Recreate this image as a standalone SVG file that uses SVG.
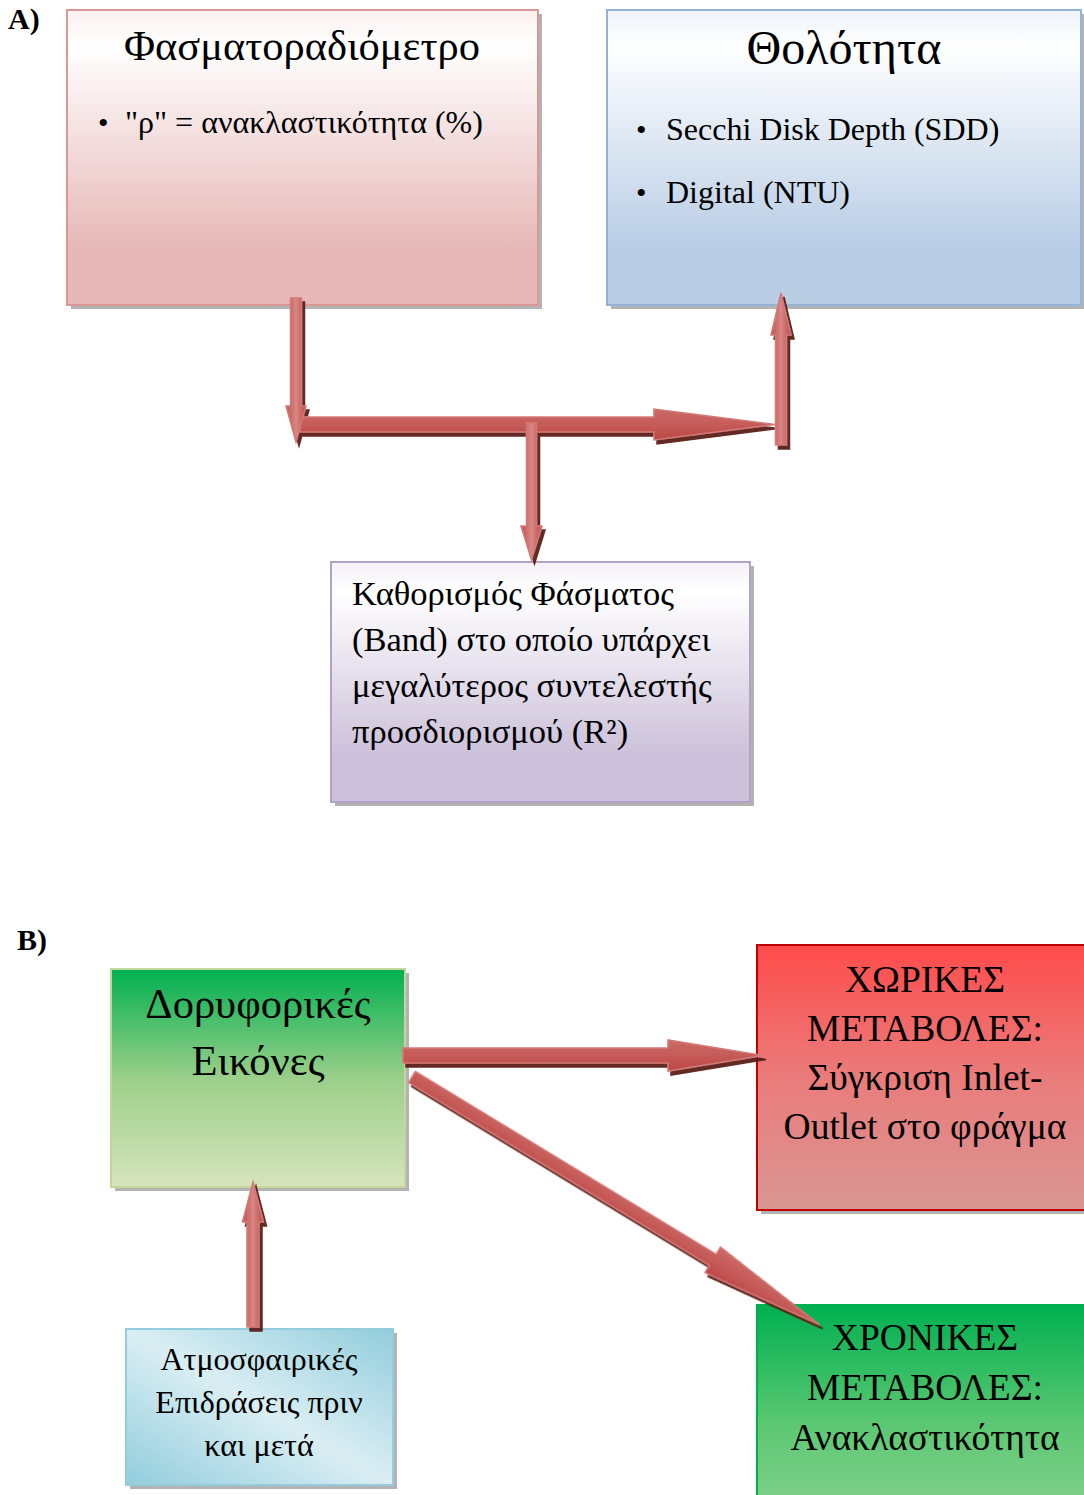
<svg xmlns="http://www.w3.org/2000/svg" width="1084" height="1495" viewBox="0 0 1084 1495">
<defs>
<style>
text{font-family:"Liberation Serif","Times New Roman",serif;fill:#000}
.lbl{font-weight:bold;font-size:30px}
.arrow{stroke:#d27a77;stroke-width:1.5;stroke-linejoin:miter}
.av{fill:url(#gv)}
.ah{fill:url(#gh)}
.shadow{fill:#9a9a9a;opacity:0.75}
</style>
<linearGradient id="gPink" x1="0" y1="0" x2="0" y2="1"><stop offset="0" stop-color="#fbf0f0"/><stop offset="0.12" stop-color="#ffffff"/><stop offset="0.8" stop-color="#e6b9b8"/><stop offset="1" stop-color="#e6b9b8"/></linearGradient>
<linearGradient id="gBlue" x1="0" y1="0" x2="0" y2="1"><stop offset="0" stop-color="#eef3f9"/><stop offset="0.12" stop-color="#ffffff"/><stop offset="0.8" stop-color="#b9cde5"/><stop offset="1" stop-color="#b9cde5"/></linearGradient>
<linearGradient id="gLav" x1="0" y1="0" x2="0" y2="1"><stop offset="0" stop-color="#f4f1f7"/><stop offset="0.12" stop-color="#ffffff"/><stop offset="0.8" stop-color="#ccc1da"/><stop offset="1" stop-color="#ccc1da"/></linearGradient>
<linearGradient id="gGreen1" x1="0" y1="0" x2="0" y2="1"><stop offset="0" stop-color="#00b050"/><stop offset="0.5" stop-color="#9bcf8a"/><stop offset="1" stop-color="#d7e4bd"/></linearGradient>
<linearGradient id="gRed" x1="0" y1="0" x2="0" y2="1"><stop offset="0" stop-color="#ff4b4b"/><stop offset="0.5" stop-color="#ea7c7b"/><stop offset="1" stop-color="#d99694"/></linearGradient>
<linearGradient id="gGreen2" x1="0" y1="0" x2="0" y2="1"><stop offset="0" stop-color="#00b050"/><stop offset="0.6" stop-color="#5cc873"/><stop offset="1" stop-color="#80d08a"/></linearGradient>
<linearGradient id="gCyan" x1="0" y1="1" x2="1" y2="0"><stop offset="0" stop-color="#92cddc"/><stop offset="0.5" stop-color="#daeef3"/><stop offset="1" stop-color="#92cddc"/></linearGradient>
<linearGradient id="gv" x1="0" y1="0" x2="1" y2="0"><stop offset="0" stop-color="#c0504d"/><stop offset="0.5" stop-color="#d88785"/><stop offset="1" stop-color="#bd4a47"/></linearGradient>
<linearGradient id="gh" x1="0" y1="0" x2="0" y2="1"><stop offset="0" stop-color="#cb6966"/><stop offset="0.5" stop-color="#c65b58"/><stop offset="1" stop-color="#bb4744"/></linearGradient>
<filter id="ds" x="-20%" y="-20%" width="140%" height="140%"><feDropShadow dx="3" dy="4" stdDeviation="0.6" flood-color="#5a1a18" flood-opacity="0.95"/></filter>
</defs>
<rect width="1084" height="1495" fill="#fff"/>
<text class="lbl" x="8" y="29">A)</text>
<text class="lbl" x="17" y="950">B)</text>

<g id="node-spectro">
<rect class="shadow" x="71" y="14" width="471" height="295"/>
<rect x="67" y="10" width="471" height="295" fill="url(#gPink)" stroke="#d99795" stroke-width="2"/>
<text x="302" y="60" font-size="42.5" text-anchor="middle">Φασματοραδιόμετρο</text>
<text x="98" y="133" font-size="30">•</text>
<text x="125" y="133" font-size="32">"ρ" = ανακλαστικότητα (%)</text>
</g>

<g id="node-turbidity">
<rect class="shadow" x="611" y="14" width="474" height="295"/>
<rect x="607" y="10" width="474" height="295" fill="url(#gBlue)" stroke="#95b3d7" stroke-width="2"/>
<text x="844" y="64" font-size="48" text-anchor="middle">Θολότητα</text>
<text x="636" y="140" font-size="30">•</text>
<text x="666" y="140" font-size="32">Secchi Disk Depth (SDD)</text>
<text x="636" y="203" font-size="30">•</text>
<text x="666" y="203" font-size="32">Digital (NTU)</text>
</g>

<g id="node-band">
<rect class="shadow" x="335" y="566" width="419" height="240"/>
<rect x="331" y="562" width="419" height="240" fill="url(#gLav)" stroke="#b3a2c7" stroke-width="2"/>
<text x="352" y="605" font-size="34.5">Καθορισμός Φάσματος</text>
<text x="352" y="651" font-size="34.5">(Band) στο οποίο υπάρχει</text>
<text x="352" y="697" font-size="34.5">μεγαλύτερος συντελεστής</text>
<text x="352" y="743" font-size="34.5">προσδιορισμού (R²)</text>
</g>

<g id="node-satellite">
<rect class="shadow" x="115" y="973" width="294" height="218"/>
<rect x="111" y="969" width="294" height="218" fill="url(#gGreen1)" stroke="#c3d69b" stroke-width="2"/>
<text x="258" y="1018" font-size="42.5" text-anchor="middle">Δορυφορικές</text>
<text x="258" y="1075" font-size="42.5" text-anchor="middle">Εικόνες</text>
</g>

<g id="node-spatial">
<rect class="shadow" x="761" y="949" width="330" height="265"/>
<rect x="757" y="945" width="330" height="265" fill="url(#gRed)" stroke="#c00000" stroke-width="2"/>
<text x="925" y="992" font-size="37.5" text-anchor="middle">ΧΩΡΙΚΕΣ</text>
<text x="925" y="1041" font-size="37.5" text-anchor="middle">ΜΕΤΑΒΟΛΕΣ:</text>
<text x="925" y="1090" font-size="37.5" text-anchor="middle">Σύγκριση Inlet-</text>
<text x="925" y="1139" font-size="37.5" text-anchor="middle">Outlet στο φράγμα</text>
</g>

<g id="node-temporal">
<rect x="757" y="1305" width="330" height="200" fill="url(#gGreen2)" stroke="#00b050" stroke-width="2"/>
<text x="925" y="1350" font-size="37.5" text-anchor="middle">ΧΡΟΝΙΚΕΣ</text>
<text x="925" y="1400" font-size="37.5" text-anchor="middle">ΜΕΤΑΒΟΛΕΣ:</text>
<text x="925" y="1450" font-size="37.5" text-anchor="middle">Ανακλαστικότητα</text>
</g>

<g id="node-atmo">
<rect class="shadow" x="130" y="1333" width="267" height="156"/>
<rect x="126" y="1329" width="267" height="156" fill="url(#gCyan)" stroke="#93cddd" stroke-width="2"/>
<text x="259" y="1370" font-size="32" text-anchor="middle">Ατμοσφαιρικές</text>
<text x="259" y="1413" font-size="32" text-anchor="middle">Επιδράσεις πριν</text>
<text x="259" y="1456" font-size="32" text-anchor="middle">και μετά</text>
</g>

<g id="connectors" filter="url(#ds)">
<polygon class="arrow ah" points="300,417 654,417 654,409 775,424.5 654,440 654,432 300,432"/>
<polygon class="arrow av" points="290.5,298 301.5,298 301.5,406 306,406 296,442 286,406 290.5,406"/>
<polygon class="arrow av" points="526.5,423 536.5,423 536.5,526 542,526 531.5,560 521,526 526.5,526"/>
<polygon class="arrow av" points="775.5,445 786.5,445 786.5,335 791,335 781,293 771,335 775.5,335"/>
<polygon class="arrow ah" points="403,1048 668,1048 668,1040 763,1055.5 668,1071 668,1063 403,1063"/>
<polygon class="arrow ah" transform="translate(412,1077) rotate(31.3)" points="0,-6.5 352,-6.5 352,-15 477,0 352,15 352,6.5 0,6.5"/>
<polygon class="arrow av" points="247,1327 259,1327 259,1222 263.5,1222 253,1182 242.5,1222 247,1222"/>
</g>
</svg>
